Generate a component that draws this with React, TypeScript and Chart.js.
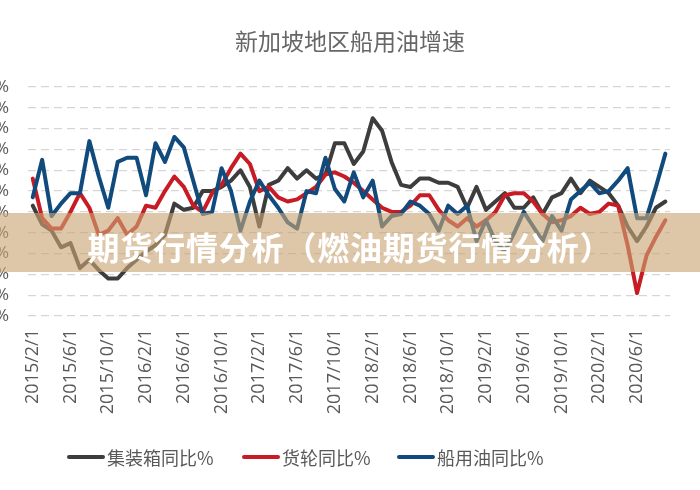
import React, { useEffect, useRef } from 'react';
import { Chart, registerables } from 'chart.js';

Chart.register(...registerables);

const labels = [
  '2015/2/1', '2015/3/1', '2015/4/1', '2015/5/1', '2015/6/1', '2015/7/1', '2015/8/1', '2015/9/1', '2015/10/1', '2015/11/1', '2015/12/1',
  '2016/1/1', '2016/2/1', '2016/3/1', '2016/4/1', '2016/5/1', '2016/6/1', '2016/7/1', '2016/8/1', '2016/9/1', '2016/10/1', '2016/11/1', '2016/12/1',
  '2017/1/1', '2017/2/1', '2017/3/1', '2017/4/1', '2017/5/1', '2017/6/1', '2017/7/1', '2017/8/1', '2017/9/1', '2017/10/1', '2017/11/1', '2017/12/1',
  '2018/1/1', '2018/2/1', '2018/3/1', '2018/4/1', '2018/5/1', '2018/6/1', '2018/7/1', '2018/8/1', '2018/9/1', '2018/10/1', '2018/11/1', '2018/12/1',
  '2019/1/1', '2019/2/1', '2019/3/1', '2019/4/1', '2019/5/1', '2019/6/1', '2019/7/1', '2019/8/1', '2019/9/1', '2019/10/1', '2019/11/1', '2019/12/1',
  '2020/1/1', '2020/2/1', '2020/3/1', '2020/4/1', '2020/5/1', '2020/6/1', '2020/7/1', '2020/8/1', '2020/9/1',
];

const containerYoY = [
  1.5, -3, -4.5, -8.5, -7.5, -13.5, -11.5, -14, -16, -16, -13.5,
  -11.5, -9.5, -8, -5.5, 2, 0.5, 1, 5, 5, 6, 7.5, 10,
  6, -3.5, 6.5, 7.5, 10.5, 8, 10, 8, 9, 16.5, 16.5, 11.5,
  14.5, 22.5, 19.5, 12, 6.5, 6, 8, 8, 7, 7, 6, 1,
  6, 0.5, 2.5, 4.5, 1, 1, 3.5, -0.5, 3.5, 4.5, 8, 4.5,
  7.5, 6, 4.5, 1.5, -3.5, -7, -3.5, 1, 2.5,
];

const cargoYoY = [
  8, -1.5, -4, -4, 0, 4.5, 1, -5.5, -4.5, -1.5, -5.5,
  -3.5, 1.5, 1, 5, 8.5, 6, 1.5, 0, 4.5, 6.5, 10.5, 14,
  11.5, 5, 6, 3.5, 2.5, 3, 4.5, 6, 9, 9.5, 8.5, 7,
  5, 3, 1, 0, 0, 1.5, 4, 4, 0.5, -2, -3.5, -1.5,
  -3.5, -2, 0, 4, 4.5, 4.5, 2.5, -0.5, -2.5, -2, -1, 1,
  -0.5, 0, 2, 1.5, -8, -19.5, -10.5, -6, -2,
];

const bunkerYoY = [
  3.5, 12.5, -1, 2, 4.5, 4.5, 17, 8.5, 1, 12, 13,
  13, 4, 16.5, 12, 18, 15.5, 7.5, -0.5, 0, 10.5, 5, -4.5,
  2.5, 7.5, 4, 1, -2.5, -4, 5, 4.5, 13, 5.5, 2.5, 9.5,
  3.5, 7.5, -3.5, -1, -0.5, 2.5, 1.5, -0.5, -4.5, 1.5, -0.5, 1.5,
  -7, -2, -7, -9.5, -5, 0, -3.5, -7, -1, -4.5, 3, 5,
  7, 4.5, 5, 7.5, 10.5, -1.5, -1.5, 6, 14,
];

const seriesNames = ['集装箱同比%', '货轮同比%', '船用油同比%'];
const seriesColors = ['#3d3d3d', '#c91b24', '#114a7c'];

const OFF = 32;
const CW = 700 + OFF;
const CH = 490;

export default function App() {
  const ref = useRef<HTMLCanvasElement>(null);

  useEffect(() => {
    const tickFont = { family: '"Open Sans", "Liberation Sans", sans-serif', size: 18 };
    const common = {
      borderWidth: 4,
      pointRadius: 0,
      pointHoverRadius: 0,
      tension: 0,
      fill: false,
      borderJoinStyle: 'round' as const,
      borderCapStyle: 'round' as const,
    };
    const chart = new Chart(ref.current!, {
      type: 'line',
      data: {
        labels,
        datasets: [
          { ...common, label: seriesNames[0], data: containerYoY, borderColor: seriesColors[0], backgroundColor: seriesColors[0], order: 3 },
          { ...common, label: seriesNames[1], data: cargoYoY, borderColor: seriesColors[1], backgroundColor: seriesColors[1], order: 2 },
          { ...common, label: seriesNames[2], data: bunkerYoY, borderColor: seriesColors[2], backgroundColor: seriesColors[2], order: 1 },
        ],
      },
      options: {
        responsive: false,
        animation: false,
        devicePixelRatio: 1,
        layout: { padding: { top: 87, bottom: 64, left: 0, right: 2 } },
        plugins: {
          legend: { display: false },
          title: { display: false },
          tooltip: { enabled: false },
        },
        scales: {
          x: {
            offset: true,
            grid: { display: false, drawTicks: false },
            border: { display: false },
            ticks: {
              autoSkip: false,
              maxRotation: 90,
              minRotation: 90,
              padding: 13,
              color: '#595959',
              font: tickFont,
              callback: (_v: any, i: number) => (i % 4 === 0 ? labels[i] : ''),
            },
            afterFit: (s: any) => {
              s.height = 110;
            },
          },
          y: {
            min: -25,
            max: 30,
            ticks: {
              stepSize: 5,
              maxTicksLimit: 20,
              autoSkip: false,
              padding: 19,
              color: '#595959',
              font: { ...tickFont, size: 17 },
              callback: (v: any) => v + '%',
            },
            grid: { color: '#d6d6d6', lineWidth: 1.2, drawTicks: false },
            border: { display: false, dash: [8, 5] },
            afterFit: (s: any) => {
              s.width = 60;
            },
          },
        },
      },
    });
    return () => chart.destroy();
  }, []);

  return (
    <div
      style={{
        position: 'fixed',
        left: 0,
        top: 0,
        width: 700,
        height: 490,
        overflow: 'hidden',
        background: '#ffffff',
      }}
    >
      <canvas
        ref={ref}
        width={CW}
        height={CH}
        style={{ position: 'absolute', left: -OFF, top: 0, width: CW, height: CH }}
      />
      <div
        style={{
          position: 'absolute',
          left: 0,
          top: 26,
          width: 700,
          textAlign: 'center',
          font: '23px "Noto Sans CJK SC", sans-serif',
          lineHeight: '28px',
          color: '#666666',
        }}
      >
        新加坡地区船用油增速
      </div>
      <div
        style={{
          position: 'absolute',
          left: 0,
          top: 213,
          width: 700,
          height: 59,
          background: 'rgba(200,165,115,0.62)',
          display: 'flex',
          alignItems: 'center',
          justifyContent: 'center',
          paddingTop: 6,
          boxSizing: 'border-box',
          color: '#ffffff',
          font: 'bold 32px "Noto Sans CJK SC", sans-serif',
          letterSpacing: '0.8px',
        }}
      >
        期货行情分析（燃油期货行情分析）
      </div>
      {seriesNames.map((name, i) => (
        <div
          key={name}
          style={{
            position: 'absolute',
            top: 444,
            left: [67, 242, 397][i],
            height: 26,
            display: 'flex',
            alignItems: 'center',
            whiteSpace: 'nowrap',
          }}
        >
          <div style={{ width: 38, height: 4, borderRadius: 2, background: seriesColors[i] }} />
          <span
            style={{
              marginLeft: 2,
              font: '18px "Noto Sans CJK SC", sans-serif',
              color: '#595959',
              lineHeight: '26px',
            }}
          >
            {name}
          </span>
        </div>
      ))}
    </div>
  );
}
